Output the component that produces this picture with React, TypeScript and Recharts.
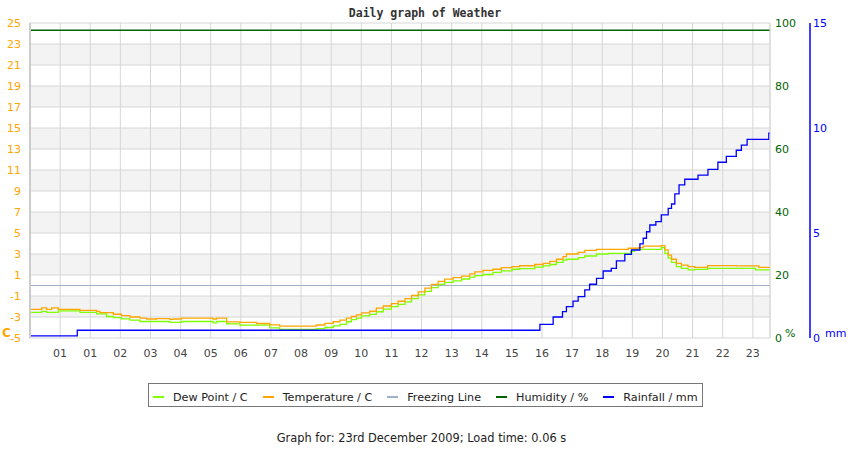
import React from 'react';
import { LineChart, Line, XAxis, YAxis, CartesianGrid } from 'recharts';

// ---------- data ----------
const hourTicks = [1, 2, 3, 4, 5, 6, 7, 8, 9, 10, 11, 12, 13, 14, 15, 16, 17, 18, 19, 20, 21, 22, 23, 24];
const hourLabels = ['01', '01', '02', '03', '04', '05', '06', '07', '08', '09', '10', '11', '12', '13', '14', '15', '16', '17', '18', '19', '20', '21', '22', '23'];
const timeEnd = 24.57;

const tempHours = [
  0.0, 0.39, 0.55, 0.72, 0.94, 1.66, 2.21, 2.32, 2.54, 2.77, 3.04, 3.32, 3.65, 3.87, 4.2, 4.65, 4.76, 5.03, 6.08, 6.19,
  6.53, 6.97, 7.52, 7.96, 8.29, 9.51, 9.79, 10.07, 10.29, 10.51, 10.67, 10.84, 11.01, 11.28, 11.5, 11.73, 12.0, 12.22,
  12.45, 12.67, 12.89, 13.11, 13.33, 13.55, 13.77, 14.05, 14.33, 14.6, 14.77, 15.04, 15.37, 15.65, 16.0, 16.26, 16.76,
  17.04, 17.26, 17.48, 17.7, 17.81, 18.2, 18.42, 18.81, 19.2, 19.86, 19.94, 20.07, 20.2, 20.36, 20.96, 21.08, 21.19,
  21.3, 21.46, 21.63, 21.85, 22.07, 22.5, 23.45, 24.09, 24.2, 24.57,
];
const temperature = [
  -2.27, -2.14, -2.27, -2.14, -2.27, -2.36, -2.46, -2.59, -2.59, -2.74, -2.87, -3.0, -3.1, -3.19, -3.16, -3.23, -3.19,
  -3.1, -3.19, -3.1, -3.46, -3.52, -3.62, -3.75, -3.86, -3.76, -3.6, -3.45, -3.3, -3.1, -2.95, -2.8, -2.6, -2.45,
  -2.15, -1.95, -1.72, -1.5, -1.25, -0.95, -0.6, -0.25, 0.1, 0.4, 0.6, 0.75, 0.9, 1.1, 1.3, 1.45, 1.55, 1.7, 1.8,
  1.88, 2.0, 2.1, 2.3, 2.5, 2.75, 3.0, 3.16, 3.35, 3.45, 3.45, 3.55, 3.55, 3.55, 3.6, 3.75, 3.8, 3.4, 2.9, 2.5,
  2.1, 1.95, 1.8, 1.73, 1.9, 1.86, 1.86, 1.73, 1.73,
];
const dewPoint = [
  -2.55, -2.46, -2.55, -2.55, -2.42, -2.55, -2.7, -2.7, -2.95, -3.05, -3.17, -3.3, -3.43, -3.43, -3.43, -3.52, -3.52,
  -3.43, -3.55, -3.43, -3.65, -3.78, -3.78, -4.03, -4.17, -4.1, -4.0, -3.85, -3.7, -3.45, -3.25, -3.1, -2.9, -2.75,
  -2.5, -2.25, -2.02, -1.8, -1.55, -1.25, -0.9, -0.55, -0.2, 0.1, 0.3, 0.45, 0.62, 0.8, 0.95, 1.05, 1.25, 1.4, 1.55,
  1.6, 1.75, 1.86, 2.0, 2.2, 2.42, 2.5, 2.65, 2.81, 3.0, 3.06, 3.06, 3.25, 3.45, 3.45, 3.45, 3.6, 3.06, 2.6, 2.2,
  1.8, 1.63, 1.48, 1.54, 1.63, 1.63, 1.48, 1.48, 1.48,
];

const rainHours = [
  0, 1.57, 16.93, 17.37, 17.68, 17.81, 18.03, 18.2, 18.42, 18.58, 18.81, 19.03, 19.3, 19.47, 19.75, 19.97, 20.25,
  20.36, 20.47, 20.58, 20.78, 20.96, 21.19, 21.3, 21.41, 21.55, 21.74, 22.18, 22.51, 22.84, 23.12, 23.45, 23.62,
  23.81, 24.53, 24.57,
];
const rainfall = [
  0.1, 0.37, 0.65, 1.0, 1.26, 1.49, 1.76, 1.97, 2.29, 2.56, 2.84, 3.19, 3.32, 3.67, 3.98, 4.19, 4.48, 4.75, 5.06,
  5.38, 5.54, 5.86, 6.17, 6.38, 6.86, 7.29, 7.56, 7.76, 8.03, 8.37, 8.65, 8.94, 9.18, 9.46, 9.75, 9.75,
];

const humidityLevel = 97.7;
const freezingLevel = 0;

const tempTicks = [-5, -3, -1, 1, 3, 5, 7, 9, 11, 13, 15, 17, 19, 21, 23, 25];
const humidityTicks = [0, 20, 40, 60, 80, 100];
const rainTicks = [0, 5, 10, 15];

const seriesNames = ['Dew Point / C', 'Temperature / C', 'Freezing Line', 'Humidity / %', 'Rainfall / mm'];
const seriesColors = ['#7fff00', '#ffa500', '#a0b2c8', '#006400', '#0000ff'];

// ---------- derived tables ----------
const tempData = tempHours.map((h, i) => ({ h, v: temperature[i] }));
const dewData = tempHours.map((h, i) => ({ h, v: dewPoint[i] }));
const rainData = rainHours.map((h, i) => ({ h, v: rainfall[i] }));
const humidityData = [{ h: 0, v: humidityLevel }, { h: timeEnd, v: humidityLevel }];
const freezeData = [{ h: 0, v: freezingLevel }, { h: timeEnd, v: freezingLevel }];

const FONT = '"DejaVu Sans", sans-serif';

const unitLabel = (text: string, color: string, dx: number, bold: boolean) => (props: any) => {
  const vb = props.viewBox || {};
  return (
    <text
      x={(vb.x || 0) + dx}
      y={(vb.y || 0) + (vb.height || 0) - 1}
      fill={color}
      fontSize={bold ? 12 : 11}
      fontWeight={bold ? 'bold' : 'normal'}
      fontFamily={FONT}
    >
      {text}
    </text>
  );
};

export default function App() {
  return (
    <div style={{ position: 'absolute', left: 0, top: 0, width: 850, height: 450, background: '#fff', fontFamily: FONT }}>
      <div
        style={{
          position: 'absolute',
          left: 0,
          top: 6,
          width: 850,
          textAlign: 'center',
          fontFamily: '"DejaVu Sans Mono", monospace',
          fontWeight: 'bold',
          fontSize: 11.5,
          lineHeight: '14px',
          color: '#333',
        }}
      >
        Daily graph of Weather
      </div>
      <LineChart width={850} height={450} margin={{ top: 23, right: 0, bottom: 82, left: 0 }}>
        <CartesianGrid
          yAxisId="t"
          stroke="#d6d6d6"
          strokeWidth={1}
          horizontalFill={['#ffffff', '#f3f3f3']}
          fillOpacity={1}
        />
        <XAxis
          dataKey="h"
          type="number"
          domain={[0, timeEnd]}
          ticks={hourTicks}
          tickFormatter={(v: number) => hourLabels[v - 1]}
          allowDataOverflow
          axisLine={false}
          tickLine={false}
          tickSize={0}
          tickMargin={11}
          height={30}
          interval={0}
          tick={{ fill: '#444', fontSize: 11, fontFamily: FONT }}
        />
        <YAxis
          yAxisId="t"
          orientation="left"
          width={30}
          domain={[-5, 25]}
          ticks={tempTicks}
          interval={0}
          axisLine={{ stroke: '#cccccc', strokeWidth: 2 }}
          tickLine={false}
          tickSize={0}
          tickMargin={9}
          tick={{ fill: '#ffa500', fontSize: 11, fontFamily: FONT }}
          label={unitLabel('C', '#ffa500', 2, true)}
        />
        <YAxis
          yAxisId="hum"
          orientation="right"
          width={40}
          domain={[0, 100]}
          ticks={humidityTicks}
          interval={0}
          axisLine={{ stroke: '#d6d6d6' }}
          tickLine={false}
          tickSize={0}
          tickMargin={5}
          tick={{ fill: '#006400', fontSize: 11, fontFamily: FONT }}
          label={unitLabel('%', '#006400', 15, false)}
        />
        <YAxis
          yAxisId="rain"
          orientation="right"
          width={40}
          domain={[0, 15]}
          ticks={rainTicks}
          interval={0}
          axisLine={{ stroke: '#0000ff', strokeWidth: 1.5 }}
          tickLine={false}
          tickSize={0}
          tickMargin={3}
          tick={{ fill: '#0000ff', fontSize: 11, fontFamily: FONT }}
          label={unitLabel('mm', '#0000ff', 15, false)}
        />
        <Line
          yAxisId="t"
          data={freezeData}
          dataKey="v"
          name={seriesNames[2]}
          stroke={seriesColors[2]}
          strokeWidth={1.2}
          dot={false}
          isAnimationActive={false}
        />
        <Line
          yAxisId="hum"
          data={humidityData}
          dataKey="v"
          name={seriesNames[3]}
          stroke={seriesColors[3]}
          strokeWidth={1.3}
          dot={false}
          isAnimationActive={false}
        />
        <Line
          yAxisId="t"
          data={dewData}
          dataKey="v"
          type="stepAfter"
          name={seriesNames[0]}
          stroke={seriesColors[0]}
          strokeWidth={1.3}
          dot={false}
          isAnimationActive={false}
        />
        <Line
          yAxisId="t"
          data={tempData}
          dataKey="v"
          type="stepAfter"
          name={seriesNames[1]}
          stroke={seriesColors[1]}
          strokeWidth={1.3}
          dot={false}
          isAnimationActive={false}
        />
        <Line
          yAxisId="rain"
          data={rainData}
          dataKey="v"
          type="stepAfter"
          name={seriesNames[4]}
          stroke={seriesColors[4]}
          strokeWidth={1.3}
          dot={false}
          isAnimationActive={false}
        />
      </LineChart>
      <div
        style={{
          position: 'absolute',
          left: 148,
          top: 383,
          width: 555,
          height: 24,
          boxSizing: 'border-box',
          border: '1px solid #777',
          display: 'flex',
          alignItems: 'center',
          paddingTop: 4,
          paddingLeft: 4,
          fontSize: 11.2,
          color: '#222',
          whiteSpace: 'nowrap',
        }}
      >
        {seriesNames.map((n, i) => (
          <div key={n} style={{ display: 'flex', alignItems: 'center', marginRight: 15 }}>
            <div style={{ width: 11, height: 2, background: seriesColors[i], marginRight: 9 }} />
            <span>{n}</span>
          </div>
        ))}
      </div>
      <div
        style={{
          position: 'absolute',
          left: 0,
          top: 431,
          width: 843,
          textAlign: 'center',
          fontSize: 11.4,
          lineHeight: '14px',
          color: '#222',
        }}
      >
        Graph for: 23rd December 2009; Load time: 0.06 s
      </div>
    </div>
  );
}
